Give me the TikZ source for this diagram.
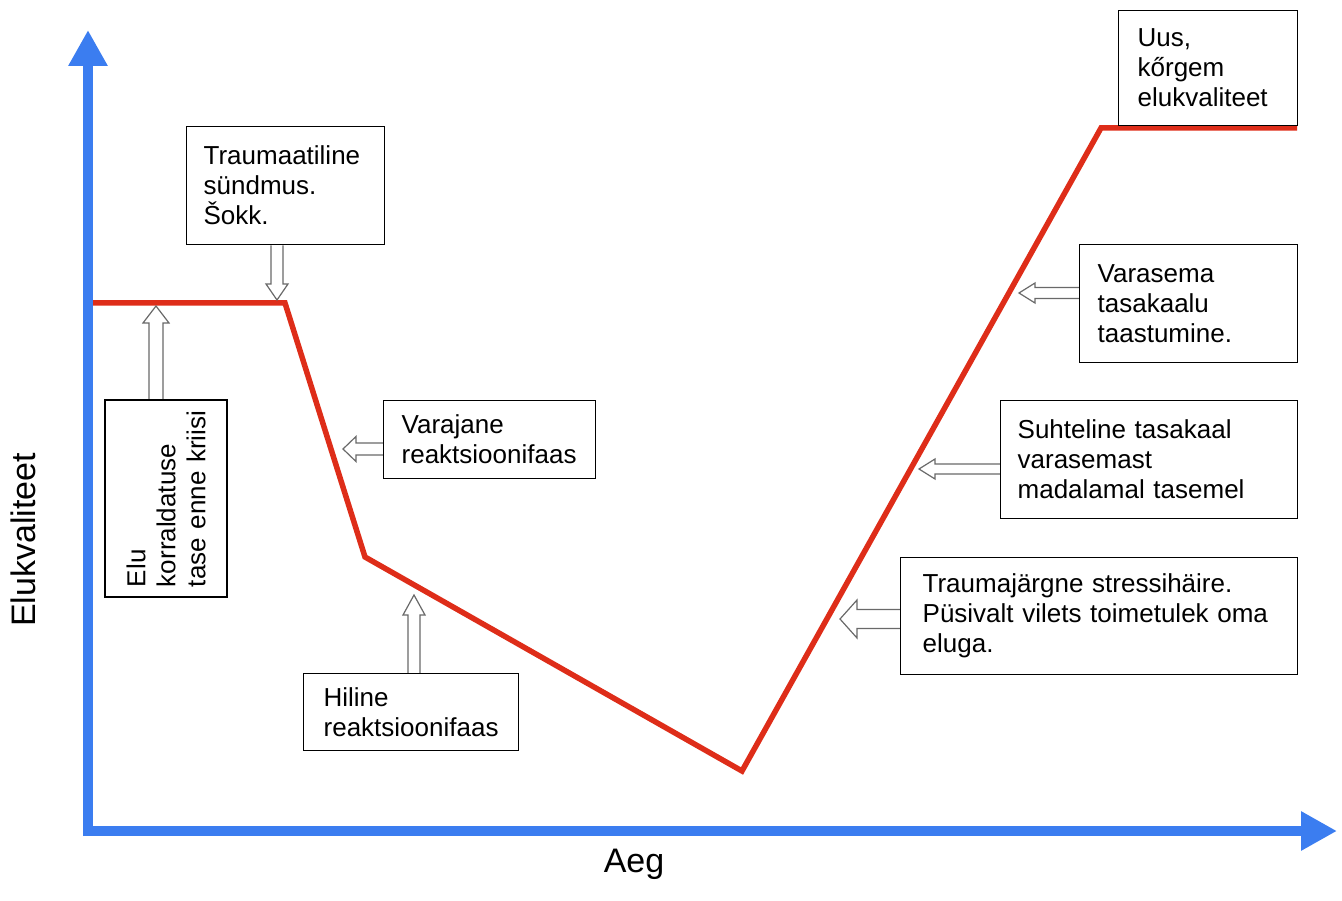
\documentclass[tikz,border=0pt]{standalone}
\usepackage{fontspec}
\setmainfont{Liberation Sans}
\usetikzlibrary{calc,arrows.meta}
\pgfdeclarelayer{bg}
\pgfsetlayers{bg,main}
\newcommand\hAw{6pt}
\newcommand\hAh{11pt}
\newcommand\hAl{15pt}
\definecolor{axisblue}{RGB}{59,125,240}
\definecolor{curvered}{RGB}{222,45,25}
\definecolor{arrowgray}{RGB}{105,105,105}
\tikzset{
  box/.style={draw=black, line width=1.3pt, fill=white, align=left, inner ysep=0pt, font=\fontsize{26}{30}\selectfont},
  cornerbox/.style={box, anchor=north west},
  axis/.style={draw=axisblue, line width=10pt, -{Triangle[length=36pt,width=37pt]}},
  curve/.style={draw=curvered, line width=5.5pt, line join=miter},
  hw/.code={\def\hAw{#1}},
  hh/.code={\def\hAh{#1}},
  hl/.code={\def\hAl{#1}},
  hollow/.style={draw=arrowgray, fill=white, line width=1.2pt, line join=miter,
    to path={
      ($(\tikztostart)!\hAw!90:(\tikztotarget)$)
      -- ($($(\tikztotarget)!\hAl!(\tikztostart)$)!\hAw!90:(\tikztotarget)$)
      -- ($($(\tikztotarget)!\hAl!(\tikztostart)$)!\hAh!90:(\tikztotarget)$)
      -- (\tikztotarget)
      -- ($($(\tikztotarget)!\hAl!(\tikztostart)$)!\hAh!-90:(\tikztotarget)$)
      -- ($($(\tikztotarget)!\hAl!(\tikztostart)$)!\hAw!-90:(\tikztotarget)$)
      -- ($(\tikztostart)!\hAw!-90:(\tikztotarget)$)
    }},
  axislabel/.style={font=\fontsize{34}{40}\selectfont}
}
\begin{document}
\begin{tikzpicture}[x=1pt,y=-1pt]
\useasboundingbox (0,0) rectangle (1342,901);

% axes
\coordinate (Ob) at (88,836);
\coordinate (Ol) at (83,831);
\coordinate (ytop) at (88,30);
\coordinate (xend) at (1337,831);
\draw[axis] (Ob) -- (ytop);
\draw[axis] (Ol) -- (xend);
\node[axislabel, rotate=90] (ylab) at (23,540) {Elukvaliteet};
\node[axislabel] (xlab) at (634,864) {Aeg};

% curve points
\coordinate (r0) at (88,303);
\coordinate (r1) at (285,303);
\coordinate (r2) at (365,557);
\coordinate (r3) at (742,771);
\coordinate (r4) at (1101,128);
\coordinate (r5) at (1297,128);

% arrow tips
\coordinate (t1) at (277,300);
\coordinate (t2) at (156,306);
\coordinate (t3) at (343,449);
\coordinate (t4) at (414,595);
\coordinate (t5) at (1019,293);
\coordinate (t6) at (919,469);
\coordinate (t7) at (840,619);

% boxes
\node[cornerbox, minimum width=198pt, minimum height=118pt, inner xsep=17pt, text width=164pt] (trauma) at (186,126) {Traumaatiline\\sündmus.\\Šokk.};
\node[box, rotate=90, minimum width=197pt, minimum height=122pt, inner xsep=10pt, text width=177pt] (elu) at (166,498.5) {Elu\\korraldatuse\\tase enne kriisi};
\node[cornerbox, minimum width=212pt, minimum height=78pt, inner xsep=18pt, text width=176pt] (varajane) at (383,400) {Varajane\\reaktsioonifaas};
\node[cornerbox, minimum width=215pt, minimum height=77pt, inner xsep=20pt, text width=175pt] (hiline) at (303,673) {Hiline\\reaktsioonifaas};
\node[cornerbox, minimum width=179pt, minimum height=115pt, inner xsep=19pt, text width=141pt] (uus) at (1118,10) {Uus,\\kőrgem\\elukvaliteet};
\node[cornerbox, minimum width=218pt, minimum height=118pt, inner xsep=18pt, text width=182pt] (varasema) at (1079,244) {Varasema\\tasakaalu\\taastumine.};
\node[cornerbox, minimum width=297pt, minimum height=118pt, inner xsep=17pt, text width=263pt] (suhteline) at (1000,400) {Suhteline tasakaal\\varasemast\\madalamal tasemel};
\node[cornerbox, minimum width=397pt, minimum height=117pt, inner xsep=22pt, text width=353pt] (traumaj) at (900,557) {Traumajärgne stressihäire.\\Püsivalt vilets toimetulek oma\\eluga.};

\begin{pgfonlayer}{bg}
\draw[curve] (r0) -- (r1) -- (r2) -- (r3) -- (r4) -- (r5);
\draw[hollow, hl=16pt] (trauma.south -| t1) to (t1);
\draw[hollow, hw=7pt, hh=13pt, hl=17pt] (elu.east -| t2) to (t2);
\draw[hollow, hh=12.5pt, hl=13pt] (varajane.west |- t3) to (t3);
\draw[hollow, hl=20pt] (hiline.north -| t4) to (t4);
\draw[hollow, hw=5.5pt, hh=10pt, hl=16pt] (varasema.west |- t5) to (t5);
\draw[hollow, hw=5pt, hh=10pt, hl=16pt] (suhteline.west |- t6) to (t6);
\draw[hollow, hw=9.5pt, hh=19pt, hl=17pt] (traumaj.west |- t7) to (t7);
\end{pgfonlayer}
\end{tikzpicture}
\end{document}
